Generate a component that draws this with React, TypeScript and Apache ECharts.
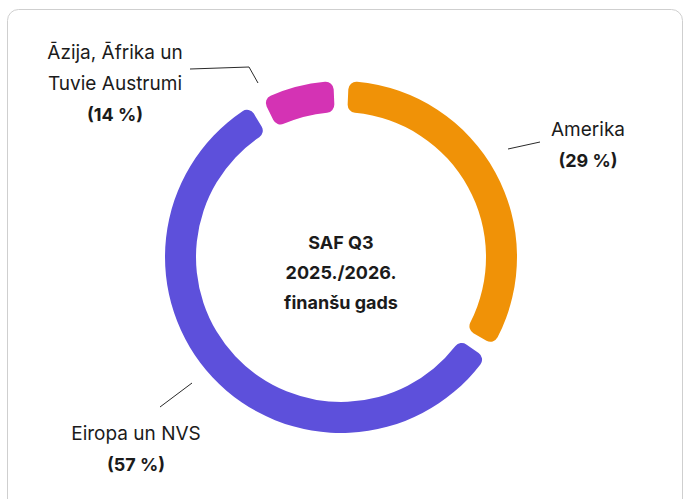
import React, { useEffect, useRef } from "react";
import * as echarts from "echarts";

// Regions, clockwise from the top
const categories = ["Amerika", "Eiropa un NVS", "Āzija, Āfrika un\nTuvie Austrumi"];
// Share of the ring each arc covers (in % of the circle)
const arcShares = [34, 58, 8];
// Percentages printed in the labels
const labelPercents = [29, 57, 14];
const colors = ["#F09207", "#5D50DB", "#D433B4"];
const centerLines = ["SAF Q3", "2025./2026.", "finanšu gads"];

export default function App() {
  const ref = useRef<HTMLDivElement>(null);

  useEffect(() => {
    if (!ref.current) return;
    const chart = echarts.init(ref.current, null, { renderer: "svg" });

    const labelPlaces: Record<number, { x: number; y: number; line: number[][] }> = {
      0: { x: 588, y: 145, line: [[508, 149], [524, 145.5], [540, 142]] },
      1: { x: 136, y: 449, line: [[192, 383], [176, 395], [160, 407]] },
      2: { x: 115, y: 83.5, line: [[258, 83], [249, 67], [190, 69]] },
    };

    chart.setOption({
      animation: false,
      backgroundColor: "#ffffff",
      graphic: [
        {
          type: "rect",
          z: -10,
          shape: { x: 7.5, y: 9.5, width: 675, height: 530, r: 11 },
          style: { fill: "#ffffff", stroke: "#cfcfcf", lineWidth: 1 },
        },
        {
          type: "text",
          x: 341,
          y: 272.5,
          style: {
            text: centerLines.join("\n"),
            fontFamily: "Inter",
            fontSize: 18,
            fontWeight: "bold",
            fill: "#1b1b1b",
            align: "center",
            verticalAlign: "middle",
            lineHeight: 30,
          },
        },
      ],
      series: [
        {
          type: "pie",
          center: [341, 257],
          radius: [145, 176],
          startAngle: 90,
          clockwise: true,
          padAngle: 5,
          avoidLabelOverlap: false,
          itemStyle: { borderRadius: 8 },
          data: categories.map((name, i) => ({
            name,
            value: arcShares[i],
            itemStyle: { color: colors[i] },
          })),
          label: {
            show: true,
            position: "outside",
            fontFamily: "Inter",
            color: "#1b1b1b",
            formatter: (p: any) => {
              const lines = String(p.name)
                .split("\n")
                .map((l: string) => `{name|${l}}`);
              return lines.join("\n") + `\n{pct|(${labelPercents[p.dataIndex]} %)}`;
            },
            rich: {
              name: {
                fontFamily: "Inter",
                fontSize: 19,
                color: "#1b1b1b",
                lineHeight: 31,
                align: "center",
              },
              pct: {
                fontFamily: "Inter",
                fontSize: 18,
                fontWeight: "bold",
                color: "#1b1b1b",
                lineHeight: 31,
                align: "center",
              },
            },
          },
          labelLine: {
            show: true,
            lineStyle: { color: "#2a2a2a", width: 1 },
          },
          labelLayout: (params: any) => {
            const p = labelPlaces[params.dataIndex];
            return {
              x: p.x,
              y: p.y,
              align: "center",
              verticalAlign: "middle",
              labelLinePoints: p.line,
            };
          },
        },
      ],
    });

    return () => chart.dispose();
  }, []);

  return (
    <div
      ref={ref}
      style={{ position: "fixed", left: 0, top: 0, width: 684, height: 499 }}
    />
  );
}
